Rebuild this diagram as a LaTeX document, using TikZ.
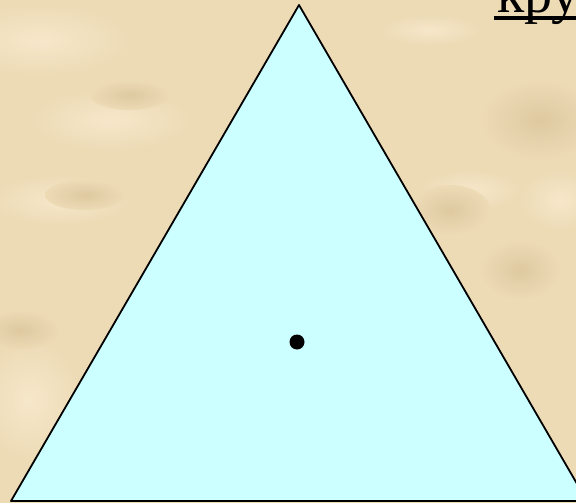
\documentclass[tikz,border=0pt]{standalone}
\usepackage{fontspec}
\setmainfont{Liberation Serif}
\definecolor{parchment}{RGB}{237,219,182}
\definecolor{parchlight}{RGB}{247,231,202}
\definecolor{parchdark}{RGB}{222,201,160}
\definecolor{paleaqua}{RGB}{204,255,255}
\tikzset{
  lightblob/.style={inner color=parchlight, outer color=parchment},
  darkblob/.style={inner color=parchdark, outer color=parchment}
}

\begin{document}
\begin{tikzpicture}[x=1pt, y=-1pt, line join=round]
  \useasboundingbox (0,0) rectangle (576,503);
  \clip (0,0) rectangle (576,503);
  % фон
  \fill[parchment] (0,0) rectangle (576,503);
  \shade[lightblob] (40,40) ellipse (90 and 35);
  \shade[lightblob] (110,120) ellipse (80 and 30);
  \shade[lightblob] (60,200) ellipse (70 and 25);
  \shade[darkblob] (130,95) ellipse (40 and 15);
  \shade[darkblob] (85,195) ellipse (40 and 15);
  \shade[lightblob] (30,400) ellipse (50 and 60);
  \shade[darkblob] (20,330) ellipse (40 and 20);
  \shade[darkblob] (540,120) ellipse (60 and 40);
  \shade[lightblob] (470,190) ellipse (50 and 20);
  \shade[darkblob] (450,210) ellipse (40 and 25);
  \shade[lightblob] (560,200) ellipse (40 and 30);
  \shade[darkblob] (520,270) ellipse (40 and 30);
  \shade[lightblob] (430,30) ellipse (50 and 15);
  % треугольник
  \coordinate (A) at (299,5);
  \coordinate (B) at (11,501);
  \coordinate (C) at (587,501);
  \filldraw[fill=paleaqua, draw=black, line width=1.8pt] (A) -- (B) -- (C) -- cycle;
  % центр
  \node[circle, fill=black, inner sep=0pt, minimum size=15pt] (O) at (297,342) {};
  % заголовок
  \node[anchor=base west, inner sep=0pt, font=\fontsize{56}{56}\selectfont] (title) at (497,12.5) {круг};
  \draw[line width=4.5pt] (title.base west) ++(-3,5.5) -- ++(100,0);
\end{tikzpicture}
\end{document}
